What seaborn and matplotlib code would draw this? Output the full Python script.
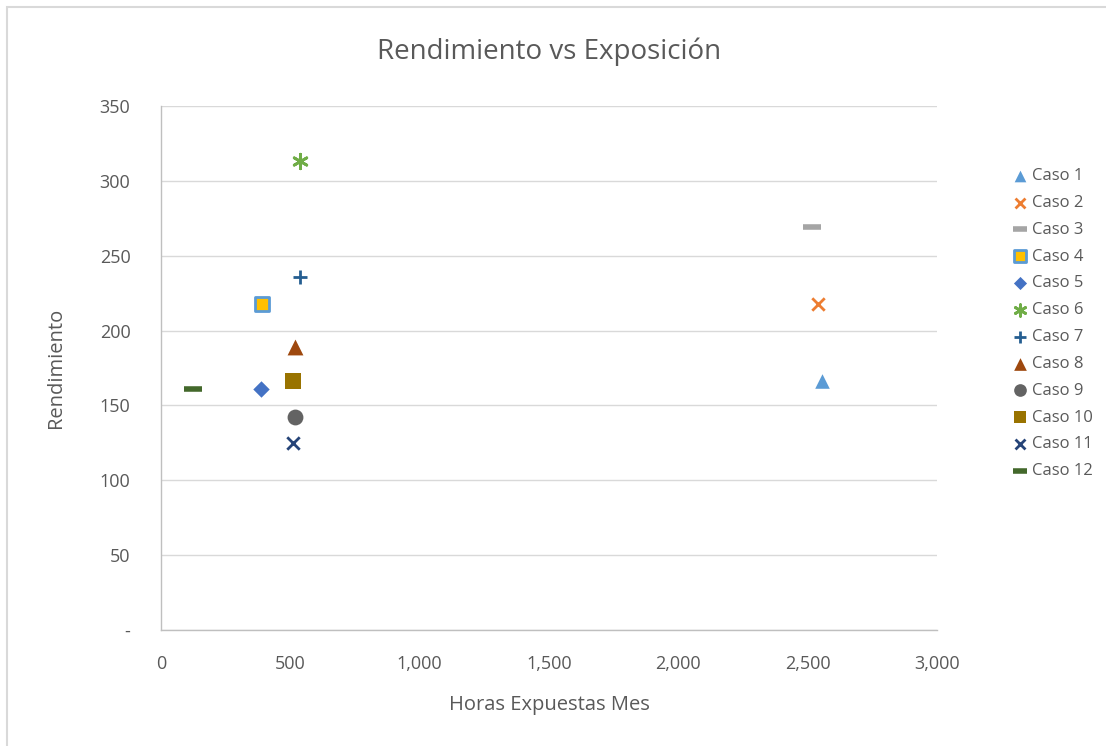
import matplotlib
matplotlib.use("Agg")
import matplotlib.pyplot as plt
import matplotlib.ticker as mticker
import pandas as pd
import seaborn as sns

casos = ["Caso 1", "Caso 2", "Caso 3", "Caso 4", "Caso 5", "Caso 6",
         "Caso 7", "Caso 8", "Caso 9", "Caso 10", "Caso 11", "Caso 12"]
horas = [2555, 2540, 2516, 390, 387, 537, 537, 518, 518, 510, 510, 124]
rendimiento = [166, 218, 269, 218, 161, 313, 236, 189, 142, 166, 125, 161]

colores = ["#5B9BD5", "#ED7D31", "#A5A5A5", "#FFC000", "#4472C4", "#70AD47",
           "#255E91", "#9E480E", "#636363", "#997300", "#264478", "#43682B"]
marcadores = ["^", "x", "_", "s", "D", (6, 2, 0), "+", "^", "o", "s", "x", "_"]
tamanos = [110, 80, 160, 110, 70, 110, 110, 130, 130, 130, 80, 160]

df = pd.DataFrame({"caso": casos, "horas": horas, "rendimiento": rendimiento})

sns.set_style("white")
plt.rcParams["font.family"] = ["Open Sans", "DejaVu Sans"]

fig = plt.figure(figsize=(11.06, 7.46), dpi=100)
ax = fig.add_axes([0.1456, 0.1555, 0.7016, 0.7025])

for i, row in df.iterrows():
    m = marcadores[i]
    unfilled = m in ("x", "+", "_") or isinstance(m, tuple)
    kw = {}
    if unfilled:
        kw["linewidth"] = 4 if m == "_" else 2
    elif row["caso"] == "Caso 4":
        kw["edgecolor"] = "#5B9BD5"
        kw["linewidth"] = 2
    else:
        kw["linewidth"] = 0
    sns.scatterplot(data=df.iloc[[i]], x="horas", y="rendimiento", ax=ax,
                    color=colores[i], marker=m, s=tamanos[i], label=row["caso"],
                    zorder=3, **kw)

ax.set_xlim(0, 3000)
ax.set_ylim(0, 350)
ax.xaxis.set_major_locator(mticker.MultipleLocator(500))
ax.yaxis.set_major_locator(mticker.MultipleLocator(50))
ax.xaxis.set_major_formatter(mticker.FuncFormatter(lambda v, p: f"{int(v):,}"))
ax.yaxis.set_major_formatter(mticker.FuncFormatter(lambda v, p: "-" if v == 0 else f"{int(v)}"))

ax.grid(axis="y", color="#D9D9D9", linewidth=1)
ax.set_axisbelow(True)
for s in ["top", "right"]:
    ax.spines[s].set_visible(False)
for s in ["left", "bottom"]:
    ax.spines[s].set_color("#BFBFBF")
    ax.spines[s].set_linewidth(1)

ax.tick_params(axis="both", length=0, labelsize=13, colors="#595959")
ax.tick_params(axis="x", pad=18)
ax.tick_params(axis="y", pad=22)
ax.set_xlabel("Horas Expuestas Mes", fontsize=14.5, color="#595959", labelpad=16)
ax.set_ylabel("Rendimiento", fontsize=14.5, color="#595959", labelpad=24)
ax.set_title("Rendimiento vs Exposición", fontsize=20, color="#595959", pad=34)

leg = ax.legend(loc="upper left", bbox_to_anchor=(1.075, 0.91), frameon=False,
                fontsize=12, labelspacing=0.65, handletextpad=0.1,
                handlelength=1.2, markerscale=0.8)
for t in leg.get_texts():
    t.set_color("#595959")

fig.patches.append(plt.Rectangle((0.006, -0.01), 1.0, 1.0, transform=fig.transFigure,
                                 fill=False, edgecolor="#D9D9D9", linewidth=1.5))

fig.savefig("out.png", dpi=100)
